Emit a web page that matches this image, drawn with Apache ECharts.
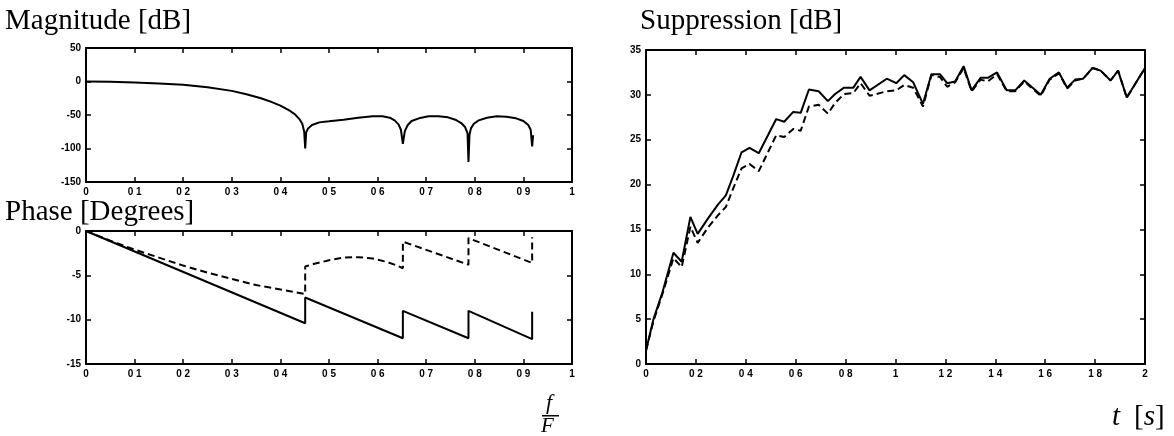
<!DOCTYPE html>
<html>
<head>
<meta charset="utf-8">
<script src="https://cdn.jsdelivr.net/npm/echarts@6/dist/echarts.min.js"></script>
<style>html,body{margin:0;padding:0;background:#fff;}#c{width:1174px;height:436px;}</style>
</head>
<body>
<div id="c"></div>
<script>
// ---------- Data ----------
// Magnitude [dB] vs normalized frequency f/F
const magFreq = [0, 0.05, 0.1, 0.15, 0.2, 0.25, 0.3, 0.33, 0.36, 0.38, 0.4, 0.42, 0.43, 0.44, 0.445, 0.449, 0.451, 0.453, 0.457, 0.465, 0.48, 0.5, 0.53, 0.56, 0.59, 0.61, 0.625, 0.635, 0.643, 0.648, 0.652, 0.656, 0.662, 0.67, 0.685, 0.705, 0.725, 0.745, 0.76, 0.772, 0.78, 0.785, 0.787, 0.789, 0.792, 0.798, 0.808, 0.825, 0.845, 0.865, 0.885, 0.9, 0.91, 0.915, 0.918, 0.92];
const magDb = [0, -0.5, -1.5, -3, -5, -8.5, -14, -19, -25, -30, -36, -44, -49, -57, -63, -75, -100, -76, -70, -65, -61, -59.5, -57, -54, -52, -52, -54, -58, -64, -72, -93, -74, -65, -59, -55, -52, -52, -53.5, -57, -62, -68, -77, -120, -80, -70, -63, -58, -54, -52, -52.5, -55, -59, -65, -72, -97, -80];

// Phase [Degrees] – solid
const phaseSolidFreq = [0, 0.451, 0.451, 0.652, 0.652, 0.787, 0.787, 0.918, 0.918];
const phaseSolid = [0, -10.4, -7.5, -12.1, -9.0, -12.1, -9.0, -12.2, -9.1];
// Phase [Degrees] – dashed
const phaseDashFreq = [0, 0.05, 0.1, 0.15, 0.2, 0.25, 0.3, 0.35, 0.4, 0.43, 0.451, 0.451, 0.47, 0.5, 0.53, 0.56, 0.59, 0.62, 0.64, 0.652, 0.652, 0.787, 0.787, 0.918, 0.918];
const phaseDash = [0, -1.1, -2.1, -3.0, -3.9, -4.7, -5.4, -6.1, -6.6, -6.9, -7.1, -4.0, -3.7, -3.3, -3.0, -2.95, -3.1, -3.5, -3.9, -4.2, -1.2, -3.8, -0.8, -3.6, -0.7];

// Suppression [dB] vs t [s]
const supTime = [0, 0.03, 0.066, 0.11, 0.143, 0.178, 0.207, 0.248, 0.289, 0.32, 0.35, 0.383, 0.415, 0.452, 0.522, 0.554, 0.59, 0.62, 0.653, 0.692, 0.729, 0.758, 0.794, 0.831, 0.86, 0.896, 0.965, 1.003, 1.035, 1.071, 1.11, 1.144, 1.178, 1.207, 1.239, 1.273, 1.305, 1.341, 1.37, 1.407, 1.446, 1.48, 1.516, 1.582, 1.618, 1.655, 1.688, 1.72, 1.752, 1.79, 1.822, 1.862, 1.892, 1.927, 2.0];
const supSolid = [1.5, 5.0, 8.0, 12.4, 11.4, 16.4, 14.5, 16.2, 17.8, 18.8, 21.0, 23.6, 24.1, 23.5, 27.3, 27.0, 28.1, 28.0, 30.6, 30.4, 29.3, 30.1, 30.8, 30.8, 32.0, 30.5, 31.8, 31.3, 32.2, 31.4, 29.0, 32.3, 32.3, 31.3, 31.5, 33.2, 30.5, 31.9, 31.9, 32.5, 30.5, 30.5, 31.6, 30.0, 31.8, 32.5, 30.8, 31.7, 31.8, 33.0, 32.7, 31.6, 32.7, 29.7, 33.0];
const supDash = [1.5, 4.8, 7.8, 11.8, 10.8, 15.3, 13.5, 15.2, 16.6, 17.5, 19.6, 21.8, 22.3, 21.5, 25.5, 25.3, 26.2, 26.0, 28.7, 28.9, 27.9, 29.1, 30.1, 30.2, 31.3, 29.9, 30.4, 30.5, 31.1, 30.8, 28.7, 32.2, 32.0, 30.9, 31.4, 33.0, 30.4, 31.7, 31.5, 32.3, 30.4, 30.4, 31.5, 29.9, 31.7, 32.4, 30.7, 31.6, 31.8, 33.0, 32.7, 31.6, 32.7, 29.7, 33.0];

// Axis ranges / tick steps
const freqAxis = {min: 0, max: 1, interval: 0.1};
const magAxis = {min: -150, max: 50, interval: 50};
const phaseAxis = {min: -15, max: 0, interval: 5};
const timeAxis = {min: 0, max: 2, interval: 0.2};
const supAxis = {min: 0, max: 35, interval: 5};

// ---------- Chart ----------
const zip = (xs, ys) => xs.map((x, i) => [x, ys[i]]);
const fmt = v => String(Math.round(v * 10) / 10).replace('.', ' ');
const labelFont = {color: '#000', fontFamily: '"Liberation Sans", Arial, sans-serif', fontWeight: 'bold', fontSize: 10};

function axis(gridIndex, range, position, showLabel) {
  return Object.assign({
    type: 'value', gridIndex, position,
    axisLine: {show: true, onZero: false, lineStyle: {color: '#000', width: 2}},
    axisTick: {show: true, inside: true, length: 5, lineStyle: {color: '#000', width: 1.5}},
    splitLine: {show: false},
    axisLabel: Object.assign({show: showLabel, formatter: fmt, margin: 5}, labelFont)
  }, range);
}

const grids = [
  {left: 86, top: 48, width: 486, height: 134},
  {left: 86, top: 231, width: 486, height: 133},
  {left: 646, top: 50, width: 499, height: 314}
];

const xAxes = [
  axis(0, freqAxis, 'bottom', true), axis(0, freqAxis, 'top', false),
  axis(1, freqAxis, 'bottom', true), axis(1, freqAxis, 'top', false),
  axis(2, timeAxis, 'bottom', true), axis(2, timeAxis, 'top', false)
];
const yAxes = [
  axis(0, magAxis, 'left', true), axis(0, magAxis, 'right', false),
  axis(1, phaseAxis, 'left', true), axis(1, phaseAxis, 'right', false),
  axis(2, supAxis, 'left', true), axis(2, supAxis, 'right', false)
];

function line(data, xi, yi, dashed) {
  return {
    type: 'line', xAxisIndex: xi, yAxisIndex: yi, data, showSymbol: false, symbol: 'none',
    smooth: false, animation: false,
    lineStyle: {color: '#000', width: 2, type: dashed ? [7, 4] : 'solid'}
  };
}

const serifFont = '"Liberation Serif", "Times New Roman", serif';
const chart = echarts.init(document.getElementById('c'), null, {renderer: 'canvas'});
chart.setOption({
  backgroundColor: '#fff',
  animation: false,
  grid: grids,
  xAxis: xAxes,
  yAxis: yAxes,
  series: [
    line(zip(magFreq, magDb), 0, 0, false),
    line(zip(phaseDashFreq, phaseDash), 2, 2, true),
    line(zip(phaseSolidFreq, phaseSolid), 2, 2, false),
    line(zip(supTime, supDash), 4, 4, true),
    line(zip(supTime, supSolid), 4, 4, false)
  ],
  graphic: [
    {type: 'text', left: 5, top: 7, style: {text: 'Magnitude [dB]', font: '29px ' + serifFont, fill: '#000'}},
    {type: 'text', left: 5, top: 198, style: {text: 'Phase [Degrees]', font: '29px ' + serifFont, fill: '#000'}},
    {type: 'text', left: 640, top: 7, style: {text: 'Suppression [dB]', font: '29px ' + serifFont, fill: '#000'}},
    {type: 'text', left: 546, top: 392, style: {text: 'f', font: 'italic 22px ' + serifFont, fill: '#000'}},
    {type: 'rect', shape: {x: 542, y: 415, width: 17, height: 1.5}, style: {fill: '#000'}},
    {type: 'text', left: 541, top: 416, style: {text: 'F', font: 'italic 21px ' + serifFont, fill: '#000'}},
    {type: 'text', left: 1112, top: 403, style: {text: 't', font: 'italic 29px ' + serifFont, fill: '#000'}},
    {type: 'text', left: 1134, top: 403, style: {
      text: '{u|[}{i|s}{u|]}',
      rich: {
        i: {font: 'italic 29px ' + serifFont, fill: '#000'},
        u: {font: '29px ' + serifFont, fill: '#000'}
      }
    }}
  ]
});
</script>
</body>
</html>
